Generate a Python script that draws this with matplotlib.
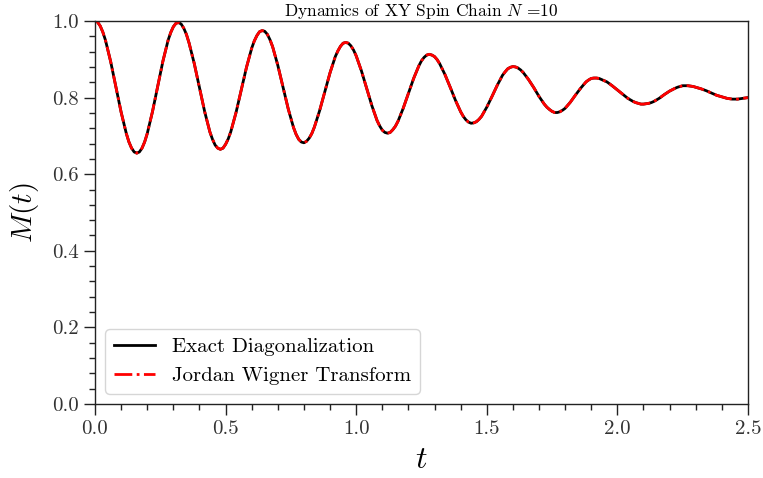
import matplotlib
matplotlib.use("Agg")
import matplotlib.pyplot as plt
from matplotlib.ticker import MultipleLocator, FuncFormatter

# ---- data ----
t_values = [0.00, 0.01, 0.02, 0.03, 0.04, 0.06, 0.08, 0.10, 0.12, 0.13,
            0.14, 0.15, 0.16, 0.17, 0.18, 0.19, 0.20, 0.22, 0.24, 0.26,
            0.28, 0.29, 0.30, 0.31, 0.32, 0.33, 0.34, 0.35, 0.36, 0.38,
            0.40, 0.42, 0.44, 0.45, 0.46, 0.47, 0.48, 0.49, 0.50, 0.51,
            0.52, 0.54, 0.56, 0.58, 0.60, 0.61, 0.62, 0.63, 0.64, 0.65,
            0.66, 0.67, 0.68, 0.70, 0.72, 0.74, 0.76, 0.77, 0.78, 0.79,
            0.80, 0.81, 0.82, 0.83, 0.84, 0.86, 0.88, 0.90, 0.92, 0.93,
            0.94, 0.95, 0.96, 0.97, 0.98, 0.99, 1.00, 1.02, 1.04, 1.06,
            1.08, 1.09, 1.10, 1.11, 1.12, 1.13, 1.14, 1.15, 1.16, 1.18,
            1.20, 1.22, 1.24, 1.25, 1.26, 1.27, 1.28, 1.29, 1.30, 1.31,
            1.32, 1.34, 1.36, 1.38, 1.40, 1.41, 1.42, 1.43, 1.44, 1.45,
            1.46, 1.47, 1.48, 1.50, 1.52, 1.54, 1.56, 1.57, 1.58, 1.59,
            1.60, 1.61, 1.62, 1.63, 1.64, 1.66, 1.68, 1.70, 1.72, 1.73,
            1.74, 1.75, 1.76, 1.77, 1.78, 1.79, 1.80, 1.82, 1.84, 1.86,
            1.88, 1.89, 1.90, 1.91, 1.92, 1.93, 1.94, 1.95, 1.96, 1.98,
            2.00, 2.02, 2.04, 2.06, 2.07, 2.08, 2.09, 2.10, 2.11, 2.12,
            2.13, 2.14, 2.16, 2.18, 2.20, 2.22, 2.23, 2.24, 2.25, 2.26,
            2.27, 2.28, 2.29, 2.30, 2.32, 2.34, 2.36, 2.38, 2.40, 2.42,
            2.44, 2.46, 2.48, 2.50]

m_exact = [1.000, 0.997, 0.987, 0.971, 0.950, 0.894, 0.828, 0.762, 0.706, 0.684,
           0.668, 0.658, 0.655, 0.658, 0.668, 0.684, 0.706, 0.763, 0.829, 0.895,
           0.950, 0.970, 0.985, 0.994, 0.996, 0.992, 0.981, 0.965, 0.943, 0.889,
           0.826, 0.763, 0.710, 0.691, 0.676, 0.668, 0.665, 0.668, 0.678, 0.692,
           0.711, 0.761, 0.820, 0.879, 0.929, 0.948, 0.962, 0.972, 0.975, 0.973,
           0.965, 0.951, 0.933, 0.884, 0.827, 0.770, 0.722, 0.704, 0.691, 0.684,
           0.682, 0.686, 0.694, 0.706, 0.723, 0.766, 0.816, 0.865, 0.907, 0.922,
           0.934, 0.942, 0.944, 0.942, 0.935, 0.924, 0.909, 0.870, 0.824, 0.779,
           0.740, 0.726, 0.715, 0.709, 0.707, 0.709, 0.716, 0.725, 0.738, 0.772,
           0.811, 0.850, 0.883, 0.896, 0.905, 0.911, 0.913, 0.911, 0.907, 0.899,
           0.888, 0.860, 0.827, 0.793, 0.763, 0.751, 0.742, 0.736, 0.733, 0.734,
           0.737, 0.743, 0.751, 0.775, 0.803, 0.832, 0.858, 0.867, 0.875, 0.879,
           0.881, 0.880, 0.877, 0.872, 0.865, 0.847, 0.826, 0.803, 0.783, 0.775,
           0.769, 0.764, 0.761, 0.761, 0.763, 0.767, 0.772, 0.788, 0.807, 0.825,
           0.841, 0.846, 0.850, 0.851, 0.851, 0.850, 0.847, 0.844, 0.841, 0.831,
           0.820, 0.809, 0.798, 0.790, 0.787, 0.785, 0.783, 0.783, 0.784, 0.785,
           0.787, 0.790, 0.798, 0.808, 0.817, 0.824, 0.827, 0.829, 0.831, 0.831,
           0.831, 0.830, 0.829, 0.827, 0.823, 0.818, 0.812, 0.806, 0.802, 0.798,
           0.796, 0.796, 0.798, 0.800]

m_jordan_wigner = list(m_exact)

labels = ["Exact Diagonalization", "Jordan Wigner Transform"]
title = r"Dynamics of XY Spin Chain $N$ =10"
xlabel = r"$t$"
ylabel = r"$M(t)$"

# ---- style ----
plt.rcParams["font.family"] = ["cmr10", "DejaVu Serif"]
plt.rcParams["mathtext.fontset"] = "cm"
plt.rcParams["axes.formatter.use_mathtext"] = True

fig = plt.figure(figsize=(7.63, 4.78), dpi=100)
ax = fig.add_axes([0.1245, 0.1548, 0.8558, 0.8013])

ax.plot(t_values, m_exact, color="black", lw=2.0, ls="-", label=labels[0])
ax.plot(t_values, m_jordan_wigner, color="red", lw=2.0, ls="-.", label=labels[1])

ax.set_xlim(0, 2.5)
ax.set_ylim(0, 1.0)
ax.xaxis.set_major_locator(MultipleLocator(0.5))
ax.xaxis.set_minor_locator(MultipleLocator(0.1))
ax.yaxis.set_major_locator(MultipleLocator(0.2))
ax.yaxis.set_minor_locator(MultipleLocator(0.04))
fmt = FuncFormatter(lambda v, p: f"{v:.1f}")
ax.xaxis.set_major_formatter(fmt)
ax.yaxis.set_major_formatter(fmt)

ax.tick_params(which="major", direction="out", length=8, width=1.0,
               labelsize=15, colors="#222222", labelcolor="#333333")
ax.tick_params(which="minor", direction="out", length=4, width=1.0,
               colors="#222222")
for s in ax.spines.values():
    s.set_color("#222222")
    s.set_linewidth(1.0)

ax.set_title(title, fontsize=12.5, pad=3)
ax.set_xlabel(xlabel, fontsize=23, labelpad=6)
ax.set_ylabel(ylabel, fontsize=21, labelpad=8)

ax.legend(loc="lower left", fontsize=15, frameon=True, framealpha=0.8,
          borderaxespad=0.5)

fig.savefig("out.png", dpi=100)
